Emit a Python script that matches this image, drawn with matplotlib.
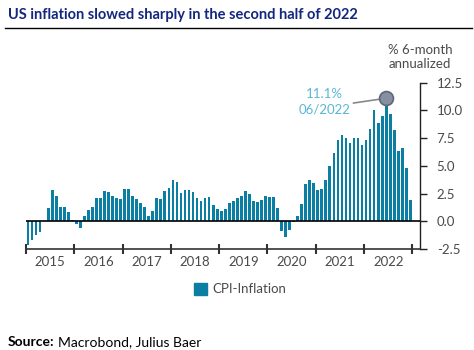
import matplotlib
matplotlib.use("Agg")
import matplotlib.pyplot as plt
import matplotlib.patches as mpatches
import numpy as np

years = [2015, 2016, 2017, 2018, 2019, 2020, 2021, 2022]
cpi_2015 = [-2.1, -1.7, -1.2, -0.95, 0.0, 1.2, 2.8, 2.3, 1.3, 1.3, 0.87, 0.1]
cpi_2016 = [-0.27, -0.57, 0.48, 1.05, 1.3, 2.08, 2.08, 2.74, 2.62, 2.32, 2.08, 2.0]
cpi_2017 = [2.95, 2.89, 2.26, 2.0, 1.65, 1.26, 0.51, 0.96, 2.08, 1.99, 2.7, 3.0]
cpi_2018 = [3.7, 3.52, 2.59, 2.86, 2.86, 2.68, 2.08, 1.87, 2.14, 2.17, 1.5, 1.14]
cpi_2019 = [0.9, 1.11, 1.65, 1.83, 2.14, 2.26, 2.74, 2.44, 1.87, 1.71, 1.96, 2.29]
cpi_2020 = [2.2, 2.23, 1.23, -0.9, -1.41, -0.78, -0.05, 0.45, 1.6, 3.37, 3.76, 3.43]
cpi_2021 = [2.86, 2.92, 3.76, 4.96, 6.14, 7.31, 7.76, 7.52, 7.07, 7.55, 7.55, 6.86]
cpi_2022 = [7.31, 8.3, 10.08, 8.9, 9.5, 11.1, 9.66, 8.21, 6.38, 6.62, 4.8, 1.93]
cpi = cpi_2015 + cpi_2016 + cpi_2017 + cpi_2018 + cpi_2019 + cpi_2020 + cpi_2021 + cpi_2022
yticks = [-2.5, 0.0, 2.5, 5.0, 7.5, 10.0, 12.5]
peak_label = "11.1%\n06/2022"

FONT = ["Lato", "DejaVu Sans"]
plt.rcParams["font.family"] = FONT
GRAY = "#4a4a4a"
BAR = "#0b7fa3"

fig = plt.figure(figsize=(4.74, 3.5), dpi=100)
ax = fig.add_axes([26/474, 1-249/350, (420-26)/474, (249-82.7)/350])

x = np.arange(len(cpi))
ax.bar(x, cpi, width=0.68, color=BAR, edgecolor="none", zorder=2)
ax.axhline(0, color="black", lw=1.2, zorder=3)

ax.set_xlim(-0.5, 97.4)
ax.set_ylim(-2.5, 12.5)

for s in ["top", "left"]:
    ax.spines[s].set_visible(False)
ax.spines["right"].set_color("#222222")
ax.spines["bottom"].set_color("#333333")
ax.spines["right"].set_linewidth(1.0)
ax.spines["bottom"].set_linewidth(1.2)

ax.yaxis.tick_right()
ax.set_yticks(yticks)
ax.set_yticklabels([f"{v:.1f}" for v in yticks])
ax.tick_params(axis="y", direction="out", length=5, width=1, color="#222222",
               labelsize=9.5, labelcolor=GRAY, pad=7)

bounds = [12*i - 0.5 for i in range(len(years)+1)]
ax.set_xticks(bounds)
ax.set_xticklabels([])
ax.tick_params(axis="x", which="major", direction="inout", length=7, width=1.5, color="#333333")
ax.set_xticks([12*i + 5.5 for i in range(len(years))], minor=True)
ax.set_xticklabels([str(y) for y in years], minor=True)
ax.tick_params(axis="x", which="minor", length=0, labelsize=9.5, labelcolor=GRAY, pad=5)

# peak annotation
ipk = int(np.argmax(cpi))
ax.annotate(peak_label, xy=(ipk, cpi[ipk]), xytext=(73.7, 10.75),
            ha="center", va="center", color="#5ab8d4", fontsize=9.5, linespacing=1.35,
            arrowprops=dict(arrowstyle="-", color="#888888", lw=1.2,
                            shrinkA=0, shrinkB=0, relpos=(1.0, 0.45)),
            zorder=5)
ax.plot([ipk], [cpi[ipk]], marker="o", ms=10, mfc="#8690a0", mec="#5f6775", mew=1.2,
        zorder=6, clip_on=False)

# title and rule
fig.text(8/474, 1-15/350, "US inflation slowed sharply in the second half of 2022",
         fontsize=10.5, fontweight="bold", color="#13277f", ha="left", va="center")
fig.add_artist(plt.Line2D([5/474, 472/474], [1-28.3/350, 1-28.3/350], color="black", lw=1.0))

fig.text(420/474, 1-57/350, "% 6-month\nannualized", ha="center", va="center",
         fontsize=9.5, color=GRAY, linespacing=1.2)

# legend
leg = fig.legend(handles=[mpatches.Patch(color=BAR, label="CPI-Inflation")],
                 loc="center", bbox_to_anchor=(240/474, 1-289/350), frameon=False,
                 fontsize=9.5, handlelength=1.0, handleheight=1.0, handletextpad=0.4,
                 labelcolor=GRAY)

t1 = fig.text(8/474, 1-342/350, "Source:", fontsize=10, fontweight="bold", color="black",
              ha="left", va="center")
fig.canvas.draw()
bb = t1.get_window_extent()
fig.text(bb.x1/474 + 3/474, 1-342/350, "Macrobond, Julius Baer", fontsize=10, color="black",
         ha="left", va="center")

fig.savefig("out.png", dpi=100)
